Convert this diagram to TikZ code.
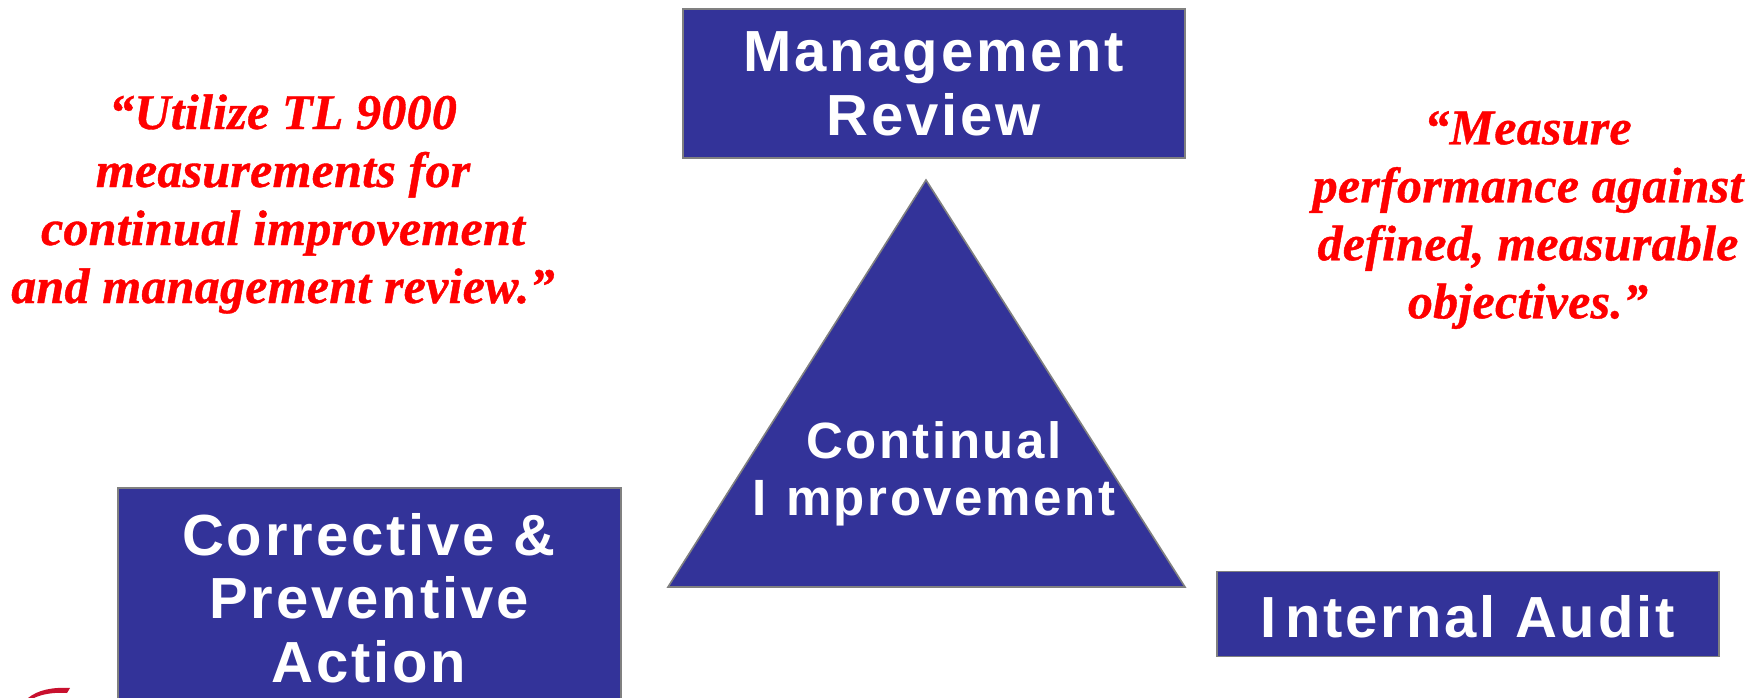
\documentclass[tikz,border=0pt]{standalone}
\usepackage{fontspec}
\setmainfont{Liberation Serif}
\newfontfamily\boxfont[LetterSpace=5,BoldFont={Liberation Sans Bold}]{Liberation Sans}
\newfontfamily\quotefont[LetterSpace=0.5,FakeBold=0.8]{Liberation Serif Bold Italic}
\definecolor{boxblue}{HTML}{333399}
\definecolor{edgegray}{HTML}{808080}
\definecolor{quotered}{HTML}{FF0000}
\definecolor{logored}{HTML}{C8102E}
\tikzset{
  x=1pt,y=-1pt,
  bluebox/.style={draw=edgegray,line width=1.6pt,fill=boxblue,text=white,inner sep=0pt,align=center,
    minimum width=502.5pt,font=\fontsize{58}{63.5}\selectfont\boxfont\bfseries},
  whitelabel/.style={text=white,align=center,inner sep=0pt,font=\fontsize{58}{63.5}\selectfont\boxfont\bfseries},
  quote/.style={text=quotered,align=center,inner sep=0pt,font=\fontsize{50}{58}\selectfont\quotefont},
}
\begin{document}
\begin{tikzpicture}
\useasboundingbox (0,0) rectangle (1755,698);
\clip (0,0) rectangle (1755,698);
\node[bluebox,minimum height=149pt] (review) at (934,83.5) {};
\node[whitelabel] (reviewlabel) at (933.5,84) {Management\\Review};
\node[bluebox,minimum height=244pt] (action) at (369.5,610) {};
\node[whitelabel] (actionlabel) at (369,598) {Corrective \&\\Preventive\\Action};
\node[bluebox,minimum height=85pt] (audit) at (1468,614) {};
\node[whitelabel] (auditlabel) at (1467.5,617) {I\kern9pt nternal Audit};
\draw[draw=edgegray,line width=1.6pt,fill=boxblue,line join=miter] (926,180) coordinate (apex) -- (668,587) coordinate (baseL) -- (1185,587) coordinate (baseR) -- cycle;
\node[text=white,align=center,inner sep=0pt,font=\fontsize{51}{57}\selectfont\boxfont\bfseries] (ci) at (934,474) {Continual\\I\kern19pt mprovement};
\node[quote] (qleft) at (283,204) {“Utilize TL 9000\\measurements for\\continual improvement\\and management review.”};
\node[quote] (qright) at (1528,220) {“Measure\\performance against\\defined, measurable\\objectives.”};
\fill[logored] (28,698) .. controls (38,690) and (52,687) .. (70,688) -- (67,693) .. controls (55,692) and (42,694) .. (34,698) -- cycle;
\end{tikzpicture}
\end{document}
